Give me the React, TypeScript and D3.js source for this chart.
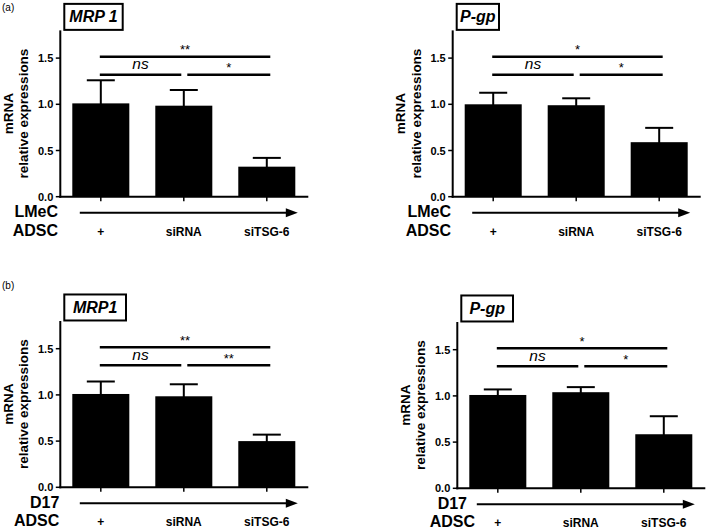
import React from "react";
import * as d3 from "d3";

// ---------- data ----------
const categories = ["+", "siRNA", "siTSG-6"];
const yTicks = [0, 0.5, 1.0, 1.5];

const mrp1LMeCMean = [1.01, 0.985, 0.325];
const mrp1LMeCErr = [0.25, 0.17, 0.095];
const pgpLMeCMean = [1.0, 0.99, 0.59];
const pgpLMeCErr = [0.125, 0.075, 0.155];
const mrp1D17Mean = [1.01, 0.985, 0.5];
const mrp1D17Err = [0.135, 0.13, 0.07];
const pgpD17Mean = [1.01, 1.04, 0.585];
const pgpD17Err = [0.06, 0.055, 0.195];

const panelTitles = ["MRP 1", "P-gp", "MRP1", "P-gp"];
const cellLines = ["LMeC", "LMeC", "D17", "D17"];
const rowLabel = "ADSC";
const yTitle1 = "mRNA";
const yTitle2 = "relative expressions";
// significance: [first vs third, first vs second, second vs third]
const sigMRP1LMeC = ["**", "ns", "*"];
const sigPgpLMeC = ["*", "ns", "*"];
const sigMRP1D17 = ["**", "ns", "**"];
const sigPgpD17 = ["*", "ns", "*"];
const sigLevelTop = 1.515;
const sigLevelLow = 1.32;
const yMax = 1.8;

// ---------- layout (positions only) ----------
const W = 709;
const H = 530;
const FONT = "'Liberation Sans', Arial, Helvetica, sans-serif";

const panels = [
  { axisX: 60.3, baseY: 196.7, boxW: 58.4, lbl1X: 58, lbl2X: 58, mean: mrp1LMeCMean, err: mrp1LMeCErr, sig: sigMRP1LMeC },
  { axisX: 452.7, baseY: 196.7, boxW: 42.3, lbl1X: 451, lbl2X: 451, mean: pgpLMeCMean, err: pgpLMeCErr, sig: sigPgpLMeC },
  { axisX: 60.3, baseY: 487.3, boxW: 61.7, lbl1X: 59.3, lbl2X: 59.3, mean: mrp1D17Mean, err: mrp1D17Err, sig: sigMRP1D17 },
  { axisX: 457.3, baseY: 488.3, boxW: 51.7, lbl1X: 467, lbl2X: 475, mean: pgpD17Mean, err: pgpD17Err, sig: sigPgpD17 },
];

function Panel({ p, idx }: { p: any; idx: number }) {
  const { axisX, baseY } = p;
  const y = d3.scaleLinear().domain([0, yMax]).range([baseY, baseY - 92.4 * yMax]);
  const x = d3
    .scaleBand<string>()
    .domain(categories)
    .range([axisX + 12, axisX + 235])
    .paddingInner(0.313)
    .paddingOuter(0);
  const bw = x.bandwidth();
  const cx = (c: string) => (x(c) as number) + bw / 2;
  const axisTop = y(yMax);
  const c0 = cx(categories[0]);
  const c1 = cx(categories[1]);
  const c2 = cx(categories[2]);
  const yTop = y(sigLevelTop);
  const yLow = y(sigLevelLow);
  const arrowY = baseY + 16;
  const arrowX0 = axisX + 19.5;
  const arrowX1 = axisX + 237.5;
  const midY = (baseY + axisTop) / 2;

  const sigText = (t: string, xc: number, yl: number, k: string) =>
    t === "ns" ? (
      <text key={k} x={xc} y={yl - 5.5} textAnchor="middle" fontSize={15.5} fontStyle="italic" fontFamily={FONT}>
        {t}
      </text>
    ) : (
      <text key={k} x={xc} y={yl - 2.5} textAnchor="middle" fontSize={13} fontFamily={FONT}>
        {t}
      </text>
    );

  const lx0 = c0 - 1;
  const lx1 = c2 + 3.5;
  return (
    <g>
      {/* title box */}
      <rect
        x={axisX + 4}
        y={axisTop - 26.5}
        width={p.boxW}
        height={26}
        fill="white"
        stroke="black"
        strokeWidth={2}
      />
      <text
        x={axisX + 4 + p.boxW / 2}
        y={axisTop - 8}
        textAnchor="middle"
        fontSize={16}
        fontWeight="bold"
        fontStyle="italic"
        fontFamily={FONT}
      >
        {panelTitles[idx]}
      </text>

      {/* bars */}
      {categories.map((c, i) => (
        <rect key={"b" + i} x={x(c)} y={y(p.mean[i])} width={bw} height={baseY - y(p.mean[i])} fill="black" />
      ))}
      {/* error bars */}
      {categories.map((c, i) => {
        const xc = cx(c);
        const yt = y(p.mean[i] + p.err[i]);
        return (
          <g key={"e" + i} stroke="black" strokeWidth={2}>
            <line x1={xc} x2={xc} y1={y(p.mean[i]) + 1} y2={yt} />
            <line x1={xc - 14} x2={xc + 14} y1={yt} y2={yt} />
          </g>
        );
      })}

      {/* y axis */}
      <line x1={axisX} x2={axisX} y1={axisTop} y2={baseY + 1} stroke="black" strokeWidth={2} />
      {yTicks.map((t) => (
        <g key={"t" + t}>
          <line x1={axisX - 4.5} x2={axisX} y1={y(t)} y2={y(t)} stroke="black" strokeWidth={1.5} />
          <text
            x={axisX - 7}
            y={y(t) + 4}
            textAnchor="end"
            fontSize={11}
            fontWeight="bold"
            fontFamily={FONT}
          >
            {d3.format(".1f")(t)}
          </text>
        </g>
      ))}
      {/* x axis */}
      <line x1={axisX - 1} x2={axisX + 248} y1={baseY} y2={baseY} stroke="black" strokeWidth={2} />
      {categories.map((c, i) => (
        <line key={"xt" + i} x1={cx(c)} x2={cx(c)} y1={baseY} y2={baseY + 4.5} stroke="black" strokeWidth={1.5} />
      ))}

      {/* y title */}
      <g transform={`translate(${axisX - 47.5},${midY}) rotate(-90)`}>
        <text textAnchor="middle" fontSize={13.5} fontWeight="bold" fontFamily={FONT}>
          {yTitle1}
        </text>
      </g>
      <g transform={`translate(${axisX - 32},${midY}) rotate(-90)`}>
        <text textAnchor="middle" fontSize={13.5} fontWeight="bold" fontFamily={FONT}>
          {yTitle2}
        </text>
      </g>

      {/* significance */}
      <g stroke="black" strokeWidth={2.5}>
        <line x1={lx0} x2={lx1} y1={yTop} y2={yTop} />
        <line x1={lx0} x2={c1 - 2.5} y1={yLow} y2={yLow} />
        <line x1={c1 + 3.5} x2={lx1} y1={yLow} y2={yLow} />
      </g>
      {sigText(p.sig[0], (lx0 + lx1) / 2, yTop, "s0")}
      {sigText(p.sig[1], (lx0 + c1 - 2.5) / 2, yLow, "s1")}
      {sigText(p.sig[2], (c1 + 3.5 + lx1) / 2, yLow, "s2")}

      {/* arrow */}
      <line x1={arrowX0} x2={arrowX1 - 8} y1={arrowY} y2={arrowY} stroke="black" strokeWidth={2} />
      <path
        d={`M${arrowX1},${arrowY} L${arrowX1 - 12},${arrowY - 4.5} L${arrowX1 - 12},${arrowY + 4.5} Z`}
        fill="black"
      />
      <text x={p.lbl1X} y={baseY + 20.5} textAnchor="end" fontSize={16} fontWeight="bold" fontFamily={FONT}>
        {cellLines[idx]}
      </text>
      <text x={p.lbl2X} y={baseY + 39} textAnchor="end" fontSize={16} fontWeight="bold" fontFamily={FONT}>
        {rowLabel}
      </text>
      {categories.map((c, i) => (
        <text
          key={"cl" + i}
          x={cx(c)}
          y={baseY + 39}
          textAnchor="middle"
          fontSize={12}
          fontWeight="bold"
          fontFamily={FONT}
        >
          {c}
        </text>
      ))}
    </g>
  );
}

export default function App() {
  return (
    <svg
      width={W}
      height={H}
      viewBox={`0 0 ${W} ${H}`}
      style={{ position: "absolute", left: 0, top: 0, background: "white" }}
    >
      <rect width={W} height={H} fill="white" />
      <text x={2} y={11} fontSize={10} fontFamily={FONT}>
        (a)
      </text>
      <text x={2} y={289} fontSize={10} fontFamily={FONT}>
        (b)
      </text>
      {panels.map((p, i) => (
        <Panel key={i} p={p} idx={i} />
      ))}
    </svg>
  );
}
